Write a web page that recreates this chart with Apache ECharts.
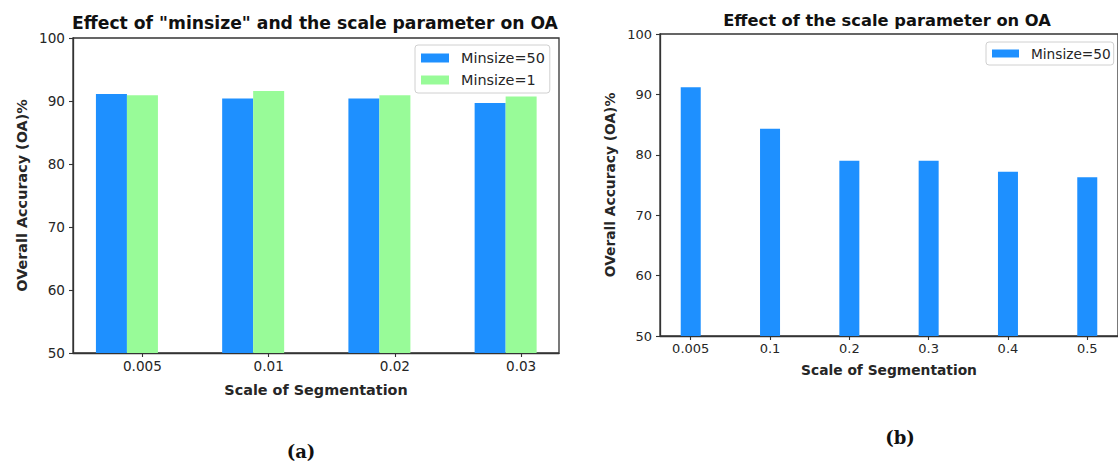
<!DOCTYPE html>
<html>
<head>
<meta charset="utf-8">
<script src="https://cdn.jsdelivr.net/npm/echarts@6/dist/echarts.min.js"></script>
<style>
html,body{margin:0;padding:0;background:#fff;}
#main{width:1118px;height:465px;}
</style>
</head>
<body>
<div id="main"></div>
<script>
// ---- Data ----
const categoriesA = ['0.005', '0.01', '0.02', '0.03'];
const minsize50A = [91.1, 90.4, 90.4, 89.7];
const minsize1A = [90.9, 91.6, 90.9, 90.7];

const categoriesB = ['0.005', '0.1', '0.2', '0.3', '0.4', '0.5'];
const minsize50B = [91.2, 84.3, 79.0, 79.0, 77.2, 76.3];

const seriesNames = ['Minsize=50', 'Minsize=1'];
const titleA = 'Effect of "minsize" and the scale parameter on OA';
const titleB = 'Effect of the scale parameter on OA';
const xTitle = 'Scale of Segmentation';
const yTitle = 'OVerall Accuracy (OA)%';

// ---- Styling ----
const BLUE = '#1E90FF';
const GREEN = '#98FB98';
const INK = '#262626';
const AXIS = '#333333';
const FONT = 'DejaVu Sans';

const idxA = categoriesA.map((_, i) => i);
const idxB = categoriesB.map((_, i) => i);

function xAxisCfg(gridIndex, cats, idx, min, max, fontSize, titleSize, nameGap) {
  return {
    type: 'value', gridIndex, min, max,
    name: xTitle, nameLocation: 'middle', nameGap,
    nameTextStyle: { fontFamily: FONT, fontWeight: 'bold', fontSize: titleSize, color: INK },
    axisLine: { show: true, onZero: false, lineStyle: { color: AXIS, width: 1.3 } },
    axisTick: { show: true, length: 4, customValues: idx, lineStyle: { color: AXIS, width: 1.1 } },
    axisLabel: { customValues: idx, margin: 6, fontFamily: FONT, fontSize, color: INK,
                 formatter: v => cats[Math.round(v)] },
    splitLine: { show: false }
  };
}
function yAxisCfg(gridIndex, fontSize, titleSize, nameGap) {
  return {
    type: 'value', gridIndex, min: 50, max: 100, interval: 10, startValue: 50,
    name: yTitle, nameLocation: 'middle', nameGap,
    nameTextStyle: { fontFamily: FONT, fontWeight: 'bold', fontSize: titleSize, color: INK },
    axisLine: { show: true, onZero: false, lineStyle: { color: AXIS, width: 1.3 } },
    axisTick: { show: true, length: 4, lineStyle: { color: AXIS, width: 1.1 } },
    axisLabel: { margin: 8, fontFamily: FONT, fontSize, color: INK },
    splitLine: { show: false }
  };
}

const chart = echarts.init(document.getElementById('main'), null, { renderer: 'svg' });
chart.setOption({
  animation: false,
  backgroundColor: '#ffffff',
  grid: [
    { left: 73, top: 38, width: 486, height: 315, show: true, borderColor: AXIS, borderWidth: 1.3, backgroundColor: 'transparent', containLabel: false },
    { left: 660, top: 34, width: 464, height: 302, show: true, borderColor: AXIS, borderWidth: 1.3, backgroundColor: 'transparent', containLabel: false }
  ],
  xAxis: [
    xAxisCfg(0, categoriesA, idxA, -0.55, 3.3, 13.6, 14.4, 30),
    xAxisCfg(1, categoriesB, idxB, -0.3875, 5.3875, 13, 13.8, 27)
  ],
  yAxis: [
    yAxisCfg(0, 13.6, 14.4, 44),
    yAxisCfg(1, 13, 13.8, 43)
  ],
  legend: [
    {
      data: seriesNames, orient: 'vertical', left: 415, top: 45,
      itemWidth: 28, itemHeight: 9, itemGap: 6, icon: 'rect',
      padding: [5, 5, 5, 6],
      backgroundColor: '#fff', borderColor: '#d0d0d0', borderWidth: 1, borderRadius: 3,
      textStyle: { fontFamily: FONT, fontSize: 14.4, color: INK, lineHeight: 16, padding: [0, 0, 0, 7] },
      selectedMode: false
    },
    {
      data: [seriesNames[0]], orient: 'vertical', left: 986, top: 42,
      itemWidth: 27, itemHeight: 8, icon: 'rect',
      padding: [4, 3, 4, 6],
      backgroundColor: '#fff', borderColor: '#d0d0d0', borderWidth: 1, borderRadius: 3,
      textStyle: { fontFamily: FONT, fontSize: 13.7, color: INK, lineHeight: 15, padding: [0, 0, 0, 7] },
      selectedMode: false
    }
  ],
  graphic: [
    { type: 'text', x: 315, y: 23, style: { text: titleA, font: 'bold 17.2px "DejaVu Sans"', fill: '#111', align: 'center', verticalAlign: 'middle' } },
    { type: 'text', x: 887, y: 20, style: { text: titleB, font: 'bold 16.3px "DejaVu Sans"', fill: '#111', align: 'center', verticalAlign: 'middle' } },
    { type: 'text', x: 301, y: 451, style: { text: '(a)', font: 'bold 18px "DejaVu Serif"', fill: '#111', align: 'center', verticalAlign: 'middle' } },
    { type: 'text', x: 900, y: 437, style: { text: '(b)', font: 'bold 18px "DejaVu Serif"', fill: '#111', align: 'center', verticalAlign: 'middle' } }
  ],
  series: [
    { type: 'bar', name: seriesNames[0], xAxisIndex: 0, yAxisIndex: 0, barWidth: 31, barGap: '0%',
      itemStyle: { color: BLUE }, data: minsize50A.map((v, i) => [idxA[i], v]) },
    { type: 'bar', name: seriesNames[1], xAxisIndex: 0, yAxisIndex: 0, barWidth: 31, barGap: '0%',
      itemStyle: { color: GREEN }, data: minsize1A.map((v, i) => [idxA[i], v]) },
    { type: 'bar', name: 'spacer', xAxisIndex: 0, yAxisIndex: 0, barWidth: 31, barGap: '0%',
      silent: true, data: [] },
    { type: 'bar', name: seriesNames[0], xAxisIndex: 1, yAxisIndex: 1, barWidth: 20,
      itemStyle: { color: BLUE }, data: minsize50B.map((v, i) => [idxB[i], v]) }
  ]
});
</script>
</body>
</html>
